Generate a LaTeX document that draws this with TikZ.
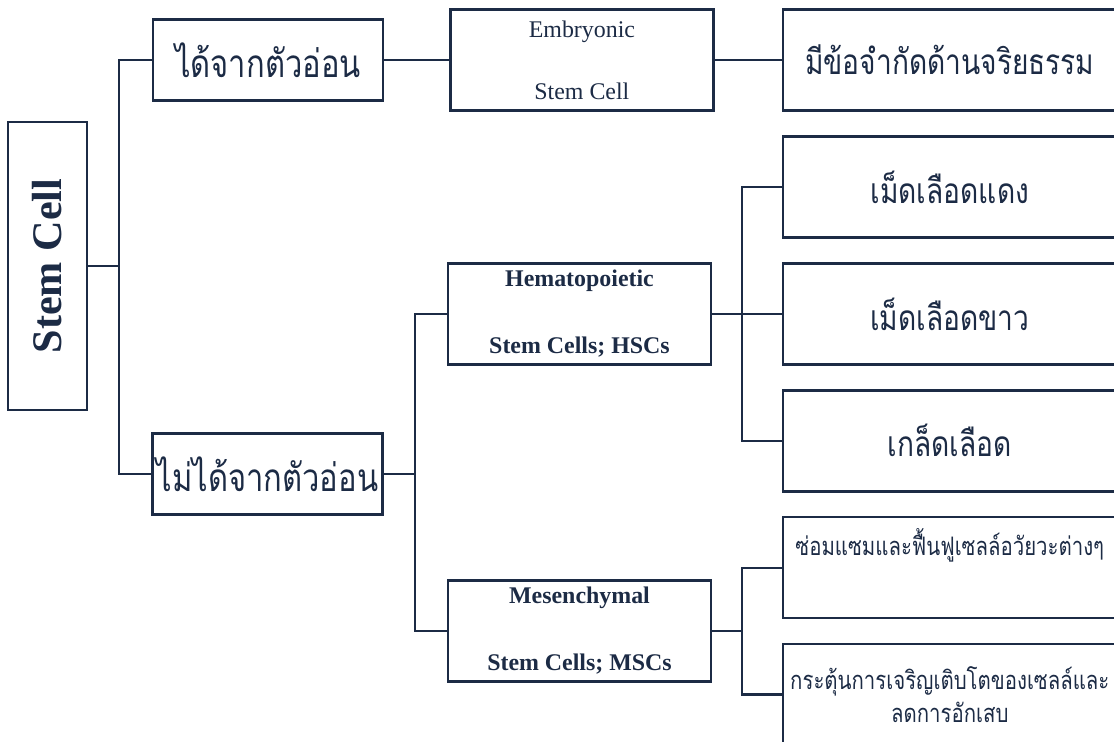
\documentclass[tikz,border=0pt]{standalone}
\usepackage{graphicx}
\usepackage{fontspec}
\setmainfont{Liberation Serif}
\newfontfamily\thaifont[Script=Thai,FakeStretch=0.8]{Loma}
\usetikzlibrary{positioning}
\definecolor{inkblue}{HTML}{1C2B45}

\begin{document}
\begin{tikzpicture}[x=0.02cm, y=-0.02cm,
  rootbox/.style={draw=inkblue, line width=1.4pt, minimum width=1.58cm, minimum height=5.76cm, inner sep=0pt, text=inkblue, font=\bfseries\fontsize{24}{28}\selectfont},
  thbox/.style={draw=inkblue, line width=1.4pt, minimum width=4.6cm, minimum height=1.62cm, inner sep=0pt, text=inkblue, font=\thaifont\fontsize{22}{26}\selectfont},
  enbox/.style={draw=inkblue, line width=1.4pt, minimum width=5.26cm, minimum height=2.02cm, inner sep=0pt, align=center, text=inkblue, font=\fontsize{13.6}{16}\selectfont},
  leafbox/.style={draw=inkblue, line width=1.4pt, minimum width=6.68cm, minimum height=2.02cm, inner sep=0pt, align=center, text=inkblue, font=\thaifont\fontsize{20}{24}\selectfont},
  smallthai/.style={font=\thaifont\fontsize{14.5}{17}\selectfont},
  link/.style={inkblue, line width=1.4pt}
]
  \clip (0,0) rectangle (1114,742);

  % root and first split
  \node[rootbox] (stem) at (47.5,266) {\rotatebox{90}{Stem Cell}};
  \node[thbox] (fromembryo) at (268,60) {ได้จากตัวอ่อน};
  \node[thbox] (notembryo) at (267.5,474) {ไม่ได้จากตัวอ่อน};

  % stem cell types
  \node[enbox, right=1.3cm of fromembryo] (esc) {Embryonic\\[0.68cm]Stem Cell};
  \node[enbox, font=\bfseries\fontsize{13.6}{16}\selectfont] (hsc) at (579.5,314) {Hematopoietic\\[0.78cm]Stem Cells; HSCs};
  \node[enbox, font=\bfseries\fontsize{13.6}{16}\selectfont] (msc) at (579.5,631) {Mesenchymal\\[0.78cm]Stem Cells; MSCs};

  % outcomes
  \node[leafbox, right=1.34cm of esc] (ethics) {มีข้อจำกัดด้านจริยธรรม};
  \node[leafbox, below=0.47cm of ethics] (rbc) {เม็ดเลือดแดง};
  \node[leafbox, below=0.47cm of rbc] (wbc) {เม็ดเลือดขาว};
  \node[leafbox, below=0.47cm of wbc] (plt) {เกล็ดเลือด};
  \node[leafbox, smallthai, below=0.47cm of plt] (repair) {ซ่อมแซมและฟื้นฟูเซลล์อวัยวะต่างๆ\\[0.26cm]\strut};
  \node[leafbox, smallthai, below=0.47cm of repair] (growth) {กระตุ้นการเจริญเติบโตของเซลล์และ\\[0.06cm]ลดการอักเสบ};

  \coordinate (j1) at (119,266);
  \coordinate (j2) at (415,474);
  \coordinate (j3) at (742,314);
  \coordinate (j4) at (742,631);

  \draw[link] (stem) -- (j1);
  \draw[link] (fromembryo.west) -| (j1) |- (notembryo.west);
  \draw[link] (fromembryo) -- (esc);
  \draw[link] (esc) -- (esc -| ethics.west);

  \draw[link] (notembryo) -- (j2);
  \draw[link] (hsc.west) -| (j2) |- (msc.west);

  \draw[link] (hsc) -- (hsc -| wbc.west);
  \draw[link] (rbc.west) -| (j3) |- (plt.west);
  \draw[link] (msc) -- (j4);
  \draw[link] (repair.west) -| (j4) |- (growth.west);
\end{tikzpicture}
\end{document}
